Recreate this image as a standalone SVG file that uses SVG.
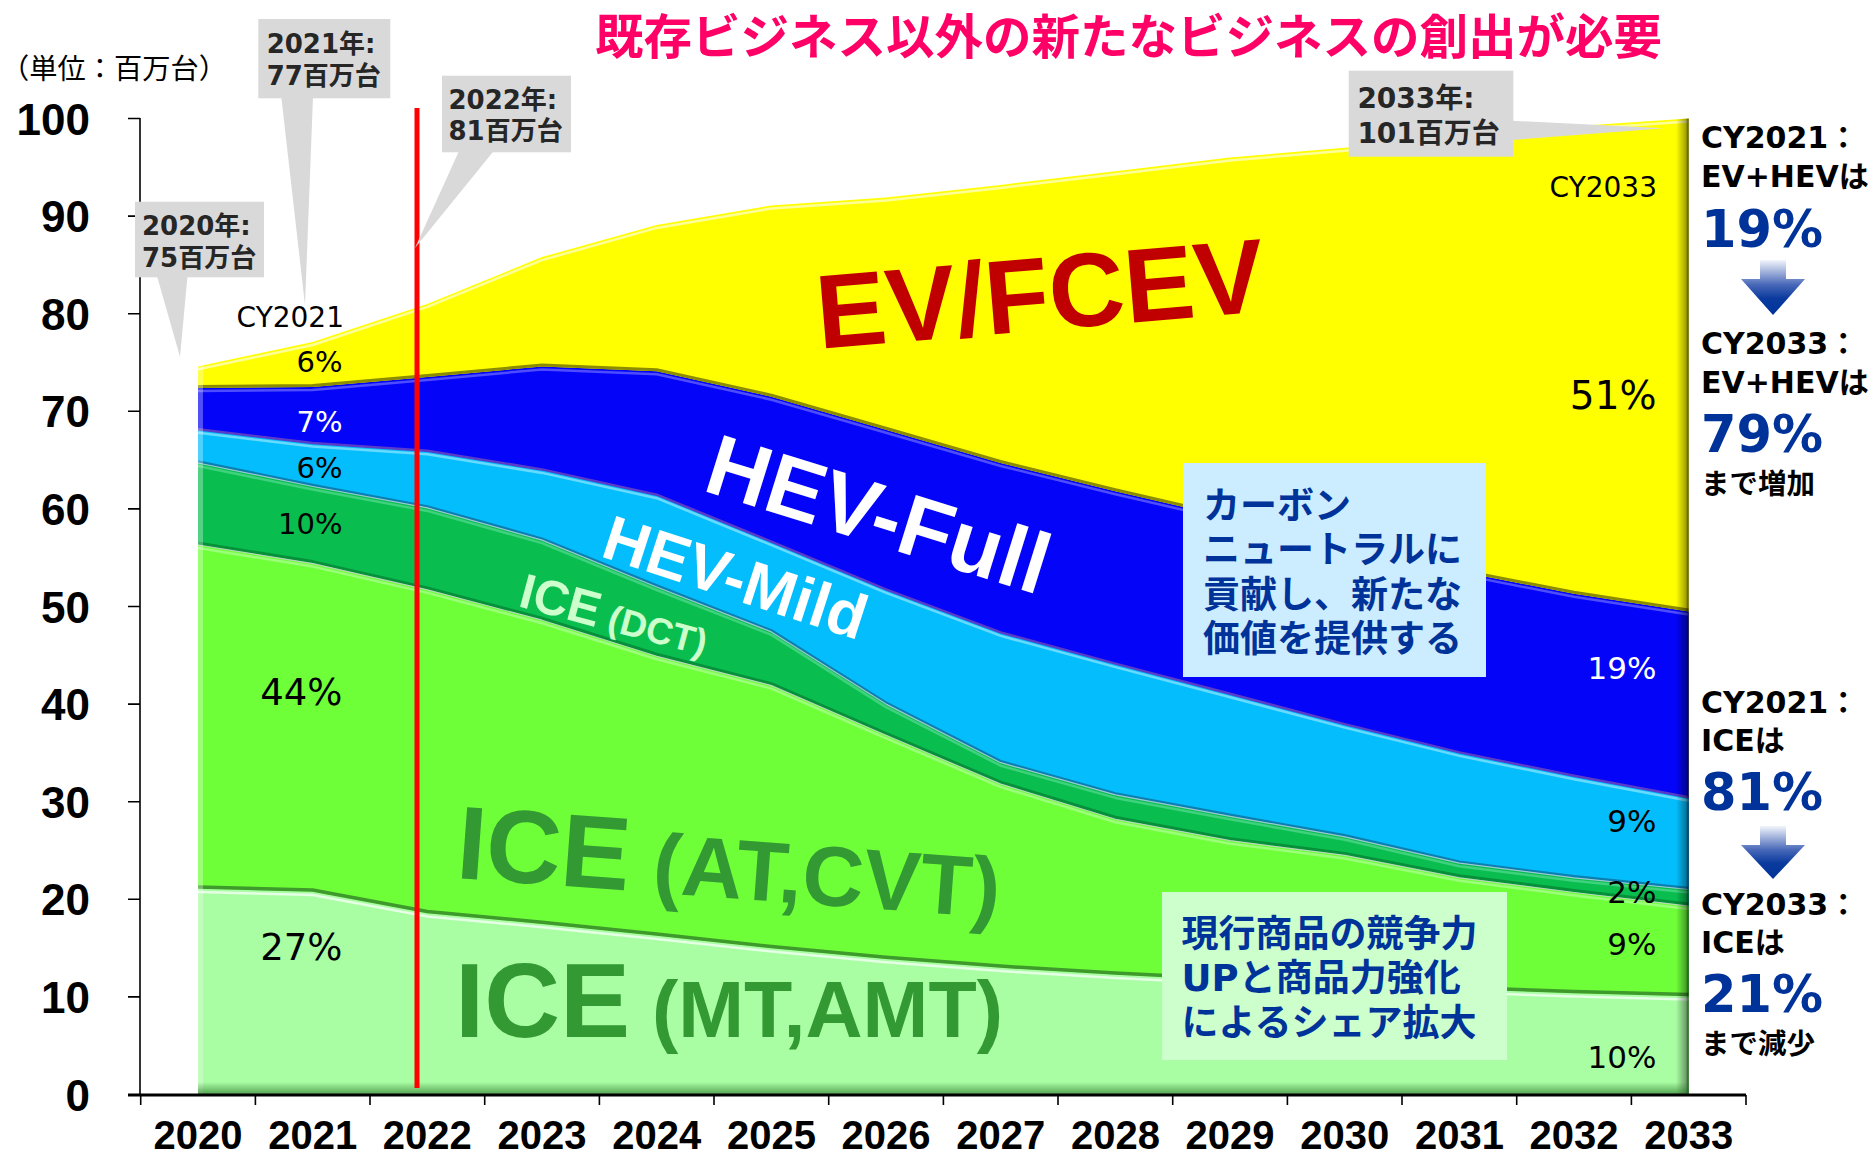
<svg xmlns="http://www.w3.org/2000/svg" width="1874" height="1156" viewBox="0 0 1874 1156">
<defs>
<style>
.ax{font-family:"Liberation Sans",Arial,sans-serif;font-weight:700;fill:#000}
.yl{font-size:44px;text-anchor:end}
.xl{font-size:40px;text-anchor:middle}
.pl{font-family:"DejaVu Sans",sans-serif;font-size:29px;text-anchor:end;fill:#000}
.pr{font-family:"DejaVu Sans",sans-serif;font-size:31px;text-anchor:end;fill:#000}
.cy{font-family:"DejaVu Sans",sans-serif;font-size:28px;fill:#000}
.cal{font-family:"DejaVu Sans","Noto Sans CJK JP",sans-serif;font-weight:700;fill:#262626;font-size:26px}
.ann{font-family:"DejaVu Sans","Noto Sans CJK JP",sans-serif;font-weight:700;fill:#000;font-size:30px}
.big{font-family:"DejaVu Sans",sans-serif;font-weight:700;fill:#003399;font-size:51px}
.box{font-family:"DejaVu Sans","Noto Sans CJK JP",sans-serif;font-weight:700;fill:#003399;font-size:37px}
.lbl{font-family:"Liberation Sans",Arial,sans-serif;font-weight:700}
.co{fill:#D9D9D9}
.ln{fill:none;stroke-linejoin:round}
</style>
<linearGradient id="arr" x1="0" y1="0" x2="0" y2="1">
<stop offset="0" stop-color="#F2F5FB"/>
<stop offset="0.45" stop-color="#4868B8"/>
<stop offset="0.7" stop-color="#0A3A9E"/>
<stop offset="1" stop-color="#003399"/>
</linearGradient>
<linearGradient id="redge" x1="0" y1="0" x2="1" y2="0">
<stop offset="0" stop-color="#000" stop-opacity="0"/>
<stop offset="0.75" stop-color="#000" stop-opacity="0.35"/>
<stop offset="1" stop-color="#000" stop-opacity="0.75"/>
</linearGradient>
<linearGradient id="bedge" x1="0" y1="0" x2="0" y2="1">
<stop offset="0" stop-color="#1E6B1E" stop-opacity="0"/>
<stop offset="1" stop-color="#1E6B1E" stop-opacity="0.6"/>
</linearGradient>
<clipPath id="plot">
<polygon points="198,366.4 312.7,342 427.3,303.9 542,257.1 656.7,224.9 771.4,205.4 886,197.6 1000.7,184.9 1115.4,171.2 1230,157.5 1344.7,147.8 1459.4,140 1574,126.3 1688.7,118.5 1688.7,1094 198,1094"/>
</clipPath>
<polyline id="b6" class="ln" points="198,366.4 312.7,342 427.3,303.9 542,257.1 656.7,224.9 771.4,205.4 886,197.6 1000.7,184.9 1115.4,171.2 1230,157.5 1344.7,147.8 1459.4,140 1574,126.3 1688.7,118.5"/>
<polyline id="b5" class="ln" points="198,387.9 312.7,386.9 427.3,377.1 542,366.4 656.7,371.3 771.4,396.7 886,429.8 1000.7,463 1115.4,491.3 1230,517.7 1344.7,547.9 1459.4,571.4 1574,593.8 1688.7,611.4"/>
<polyline id="b4" class="ln" points="198,429.8 312.7,443.5 427.3,451.3 542,469.9 656.7,495.2 771.4,542.1 886,589.9 1000.7,632.9 1115.4,664.1 1230,694.3 1344.7,724.6 1459.4,752.9 1574,776.3 1688.7,797.8"/>
<polyline id="b3" class="ln" points="198,463 312.7,486.5 427.3,507.9 542,540.1 656.7,587 771.4,631.9 886,704.1 1000.7,762.7 1115.4,794.9 1230,816.3 1344.7,836.8 1459.4,863.2 1574,877.8 1688.7,889.5"/>
<polyline id="b2" class="ln" points="198,545 312.7,563.6 427.3,589.9 542,620.2 656.7,656.3 771.4,685.6 886,735.3 1000.7,784.1 1115.4,819.3 1230,840.7 1344.7,855.4 1459.4,877.8 1574,892.5 1688.7,906.1"/>
<polyline id="b1" class="ln" points="198,888.6 312.7,891.5 427.3,913 542,923.7 656.7,935.4 771.4,948.1 886,958.8 1000.7,967.6 1115.4,974.5 1230,980.3 1344.7,985.2 1459.4,989.1 1574,993 1688.7,995.9"/>
</defs>

<rect width="1874" height="1156" fill="#FFFFFF"/>

<g id="areas">
<polygon id="ev" fill="#FFFF00" points="198,366.4 312.7,342 427.3,303.9 542,257.1 656.7,224.9 771.4,205.4 886,197.6 1000.7,184.9 1115.4,171.2 1230,157.5 1344.7,147.8 1459.4,140 1574,126.3 1688.7,118.5 1688.7,1094 198,1094"/>
<polygon id="hev-full" fill="#0404F8" points="198,387.9 312.7,386.9 427.3,377.1 542,366.4 656.7,371.3 771.4,396.7 886,429.8 1000.7,463 1115.4,491.3 1230,517.7 1344.7,547.9 1459.4,571.4 1574,593.8 1688.7,611.4 1688.7,1094 198,1094"/>
<polygon id="hev-mild" fill="#04BDFD" points="198,429.8 312.7,443.5 427.3,451.3 542,469.9 656.7,495.2 771.4,542.1 886,589.9 1000.7,632.9 1115.4,664.1 1230,694.3 1344.7,724.6 1459.4,752.9 1574,776.3 1688.7,797.8 1688.7,1094 198,1094"/>
<polygon id="ice-dct" fill="#09BE4F" points="198,463 312.7,486.5 427.3,507.9 542,540.1 656.7,587 771.4,631.9 886,704.1 1000.7,762.7 1115.4,794.9 1230,816.3 1344.7,836.8 1459.4,863.2 1574,877.8 1688.7,889.5 1688.7,1094 198,1094"/>
<polygon id="ice-at" fill="#6EFF39" points="198,545 312.7,563.6 427.3,589.9 542,620.2 656.7,656.3 771.4,685.6 886,735.3 1000.7,784.1 1115.4,819.3 1230,840.7 1344.7,855.4 1459.4,877.8 1574,892.5 1688.7,906.1 1688.7,1094 198,1094"/>
<polygon id="ice-mt" fill="#A9FDA3" points="198,888.6 312.7,891.5 427.3,913 542,923.7 656.7,935.4 771.4,948.1 886,958.8 1000.7,967.6 1115.4,974.5 1230,980.3 1344.7,985.2 1459.4,989.1 1574,993 1688.7,995.9 1688.7,1094 198,1094"/>
<g clip-path="url(#plot)">
<use href="#b6" stroke="#FFFF99" stroke-width="2.5" transform="translate(0,3)"/>
<use href="#b5" stroke="#8C8C00" stroke-width="3" transform="translate(0,-1.5)"/>
<use href="#b5" stroke="#4D4DFF" stroke-width="2.5" transform="translate(0,3)"/>
<use href="#b4" stroke="#5A3CC8" stroke-width="2.5" transform="translate(0,-0.5)"/>
<use href="#b4" stroke="#66DAFF" stroke-width="2.5" transform="translate(0,3)"/>
<use href="#b3" stroke="#0A7FB0" stroke-width="2.5" transform="translate(0,-1.5)"/>
<use href="#b3" stroke="#9CC8D0" stroke-width="1.2"/>
<use href="#b3" stroke="#3ED27C" stroke-width="2.5" transform="translate(0,3)"/>
<use href="#b2" stroke="#06903A" stroke-width="3" transform="translate(0,-2)"/>
<use href="#b2" stroke="#B8D8B8" stroke-width="1.2"/>
<use href="#b2" stroke="#9BFF7A" stroke-width="2.5" transform="translate(0,3)"/>
<use href="#b1" stroke="#3E9A2A" stroke-width="3.5" transform="translate(0,-1.5)"/>
<use href="#b1" stroke="#E4FFE4" stroke-width="2.5" transform="translate(0,3.5)"/>
<rect x="198" y="100" width="5" height="1000" fill="#FFFFFF" opacity="0.3"/>
<rect x="1676" y="100" width="13" height="1000" fill="url(#redge)"/>
<rect x="198" y="1082" width="1491" height="12" fill="url(#bedge)"/>
</g>
</g>

<g id="axes">
<line x1="140" y1="118" x2="140" y2="1095" stroke="#000" stroke-width="1.6"/>
<path d="M128,118.5H140M128,216.1H140M128,313.7H140M128,411.3H140M128,508.9H140M128,606.5H140M128,704.1H140M128,801.7H140M128,899.3H140M128,996.9H140" stroke="#000" stroke-width="1.6" fill="none"/>
<line x1="128" y1="1095" x2="1746" y2="1095" stroke="#000" stroke-width="2.8"/>
<path d="M140.7,1095V1105M255.4,1095V1105M370,1095V1105M484.7,1095V1105M599.4,1095V1105M714,1095V1105M828.7,1095V1105M943.4,1095V1105M1058,1095V1105M1172.7,1095V1105M1287.4,1095V1105M1402,1095V1105M1516.7,1095V1105M1631.4,1095V1105M1746,1095V1105" stroke="#000" stroke-width="1.6" fill="none"/>
<g class="ax yl">
<text x="90" y="134.5">100</text>
<text x="90" y="232.1">90</text>
<text x="90" y="329.7">80</text>
<text x="90" y="427.3">70</text>
<text x="90" y="524.9">60</text>
<text x="90" y="622.5">50</text>
<text x="90" y="720.1">40</text>
<text x="90" y="817.7">30</text>
<text x="90" y="915.3">20</text>
<text x="90" y="1012.9">10</text>
<text x="90" y="1110.5">0</text>
</g>
<g class="ax xl">
<text x="198" y="1149">2020</text>
<text x="312.7" y="1149">2021</text>
<text x="427.3" y="1149">2022</text>
<text x="542" y="1149">2023</text>
<text x="656.7" y="1149">2024</text>
<text x="771.4" y="1149">2025</text>
<text x="886" y="1149">2026</text>
<text x="1000.7" y="1149">2027</text>
<text x="1115.4" y="1149">2028</text>
<text x="1230" y="1149">2029</text>
<text x="1344.7" y="1149">2030</text>
<text x="1459.4" y="1149">2031</text>
<text x="1574" y="1149">2032</text>
<text x="1688.7" y="1149">2033</text>
</g>
<text x="1" y="79" font-family="'Noto Sans CJK JP',sans-serif" font-size="28" textLength="226" lengthAdjust="spacingAndGlyphs" fill="#000">（単位：百万台）</text>
</g>

<g id="series-labels">
<text class="lbl" transform="translate(1043,330) rotate(-4.8)" text-anchor="middle" font-size="105" fill="#C00000">EV/FCEV</text>
<text class="lbl" transform="translate(701,490) rotate(17.3)" font-size="86" fill="#FFFFFF">HEV-Full</text>
<text class="lbl" transform="translate(599,556) rotate(18)" font-size="63" fill="#FFFFFF">HEV-Mild</text>
<text class="lbl" transform="translate(517,606) rotate(15)" font-size="49" fill="#CCFFCC">ICE<tspan font-size="37"> (DCT)</tspan></text>
<text class="lbl" transform="translate(455,878) rotate(4.2)" font-size="104" fill="#339933">ICE<tspan font-size="85"> (AT,CVT)</tspan></text>
<text class="lbl" transform="translate(455,1037)" font-size="105" fill="#339933">ICE<tspan font-size="79"> (MT,AMT)</tspan></text>
</g>

<g id="pct-labels">
<text class="cy" x="344" y="327" text-anchor="end">CY2021</text>
<text class="pl" x="342.5" y="372.3">6%</text>
<text class="pl" x="342.5" y="432.3" style="fill:#FFFFFF">7%</text>
<text class="pl" x="342.5" y="477.9">6%</text>
<text class="pl" x="342.5" y="533.9">10%</text>
<text class="pl" x="342.5" y="705.2" style="font-size:37px">44%</text>
<text class="pl" x="342.5" y="960.2" style="font-size:37px">27%</text>
<text class="cy" x="1657" y="197" text-anchor="end">CY2033</text>
<text class="pr" x="1656.5" y="409.2" style="font-size:39px">51%</text>
<text class="pr" x="1656.5" y="678.9" style="fill:#FFFFFF">19%</text>
<text class="pr" x="1656.5" y="831.8">9%</text>
<text class="pr" x="1656.5" y="903">2%</text>
<text class="pr" x="1656.5" y="955.3">9%</text>
<text class="pr" x="1656.5" y="1068">10%</text>
</g>

<g id="milestone-2022">
<line x1="417" y1="108" x2="417" y2="1088" stroke="#FF0000" stroke-width="5"/>
</g>

<g id="callout-2020">
<rect class="co" x="135" y="201.7" width="129" height="75.6"/>
<polygon class="co" points="157,276 187.5,276 180,356.7"/>
<text class="cal" x="142" y="235">2020年:</text>
<text class="cal" x="142" y="266.7">75百万台</text>
</g>
<g id="callout-2021">
<rect class="co" x="258.3" y="19" width="132" height="79.3"/>
<polygon class="co" points="281.3,97 313,97 305,305"/>
<text class="cal" x="266.7" y="53.3">2021年:</text>
<text class="cal" x="266.7" y="85">77百万台</text>
</g>
<g id="callout-2022">
<rect class="co" x="442" y="75.7" width="129" height="76.6"/>
<polygon class="co" points="459,151 493.7,151 415,248"/>
<text class="cal" x="448.5" y="109.3">2022年:</text>
<text class="cal" x="448.5" y="140">81百万台</text>
</g>
<g id="callout-2033">
<rect class="co" x="1348.7" y="70.7" width="164.7" height="86"/>
<polygon class="co" points="1512,120.7 1512,140 1664,128.3"/>
<text class="cal" x="1357.4" y="108.3" style="font-size:28px">2033年:</text>
<text class="cal" x="1357.4" y="143.3" style="font-size:28px">101百万台</text>
</g>

<g id="box-carbon">
<rect x="1183" y="463" width="303" height="214" fill="#CCECFF"/>
<text class="box" x="1203" y="519">カーボン</text>
<text class="box" x="1203" y="563.3">ニュートラルに</text>
<text class="box" x="1203" y="607.6">貢献し、新たな</text>
<text class="box" x="1203" y="652">価値を提供する</text>
</g>
<g id="box-ice">
<rect x="1162" y="892" width="345" height="168" fill="#CCFFCC"/>
<text class="box" x="1181.5" y="946.5">現行商品の競争力</text>
<text class="box" x="1181.5" y="991">UPと商品力強化</text>
<text class="box" x="1181.5" y="1035.7">によるシェア拡大</text>
</g>

<g id="title">
<text x="595" y="54" font-family="'Noto Sans CJK JP',sans-serif" font-weight="700" font-size="48" textLength="1067" lengthAdjust="spacingAndGlyphs" fill="#FF0066">既存ビジネス以外の新たなビジネスの創出が必要</text>
</g>

<g id="summary-ev">
<text class="ann" x="1701" y="148">CY2021：</text>
<text class="ann" x="1701" y="187.4">EV+HEVは</text>
<text class="big" x="1701" y="246.6">19%</text>
<path d="M1760,260H1786V279H1805L1773,315L1741,279H1760Z" fill="url(#arr)"/>
<text class="ann" x="1701" y="354.4">CY2033：</text>
<text class="ann" x="1701" y="392.9">EV+HEVは</text>
<text class="big" x="1701" y="451.6">79%</text>
<text class="ann" x="1701" y="493.8" style="font-size:28.5px">まで増加</text>
</g>
<g id="summary-ice">
<text class="ann" x="1701" y="712.9">CY2021：</text>
<text class="ann" x="1701" y="750.9">ICEは</text>
<text class="big" x="1701" y="809.6">81%</text>
<path d="M1760,826H1786V845H1805L1773,879L1741,845H1760Z" fill="url(#arr)"/>
<text class="ann" x="1701" y="915.4">CY2033：</text>
<text class="ann" x="1701" y="953.4">ICEは</text>
<text class="big" x="1701" y="1011.6">21%</text>
<text class="ann" x="1701" y="1053.8" style="font-size:28.5px">まで減少</text>
</g>
</svg>
